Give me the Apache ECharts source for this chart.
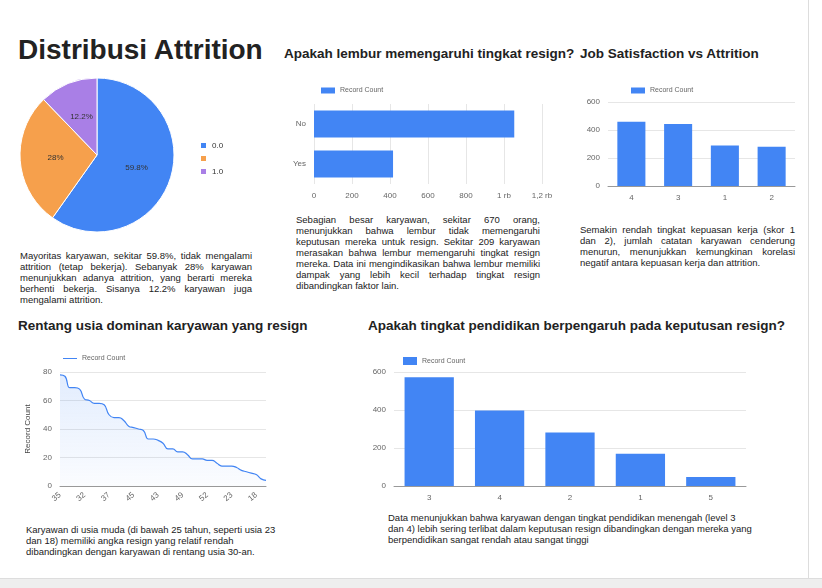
<!DOCTYPE html>
<html>
<head>
<meta charset="utf-8">
<script src="https://cdn.jsdelivr.net/npm/echarts@6/dist/echarts.min.js"></script>
<style>
body{margin:0;width:822px;height:588px;background:#fff;font-family:"Liberation Sans",Arial,sans-serif;position:relative;overflow:hidden}
.t{position:absolute;color:#222;font-weight:bold;white-space:nowrap}
.p{position:absolute;font-size:9.5px;line-height:11px;color:#222;text-align:justify}
.c{position:absolute}
#foot{position:absolute;left:0;top:578px;width:822px;height:10px;background:#eee;border-top:1px solid #ddd}
#edge{position:absolute;left:808px;top:0;width:1px;height:578px;background:#ddd}
</style>
</head>
<body>
<div class="t" style="left:18px;top:34px;font-size:28px">Distribusi Attrition</div>
<div class="t" style="left:284px;top:46px;font-size:13.5px">Apakah lembur memengaruhi tingkat resign?</div>
<div class="t" style="left:580px;top:46px;font-size:13.5px">Job Satisfaction vs Attrition</div>
<div class="t" style="left:18px;top:318px;font-size:13.5px">Rentang usia dominan karyawan yang resign</div>
<div class="t" style="left:368px;top:318px;font-size:13.5px">Apakah tingkat pendidikan berpengaruh pada keputusan resign?</div>

<div class="c" id="pie" style="left:10px;top:78px;width:260px;height:160px"></div>
<div class="c" id="ot" style="left:284px;top:74px;width:280px;height:130px"></div>
<div class="c" id="js" style="left:578px;top:74px;width:225px;height:130px"></div>
<div class="c" id="age" style="left:14px;top:342px;width:270px;height:170px"></div>
<div class="c" id="edu" style="left:364px;top:342px;width:400px;height:166px"></div>

<div class="p" style="left:20px;top:250px;width:232px">Mayoritas karyawan, sekitar 59.8%, tidak mengalami attrition (tetap bekerja). Sebanyak 28% karyawan menunjukkan adanya attrition, yang berarti mereka berhenti bekerja. Sisanya 12.2% karyawan juga mengalami attrition.</div>
<div class="p" style="left:296px;top:214px;width:244px">Sebagian besar karyawan, sekitar 670 orang, menunjukkan bahwa lembur tidak memengaruhi keputusan mereka untuk resign. Sekitar 209 karyawan merasakan bahwa lembur memengaruhi tingkat resign mereka. Data ini mengindikasikan bahwa lembur memiliki dampak yang lebih kecil terhadap tingkat resign dibandingkan faktor lain.</div>
<div class="p" style="left:580px;top:224px;width:215px">Semakin rendah tingkat kepuasan kerja (skor 1 dan 2), jumlah catatan karyawan cenderung menurun, menunjukkan kemungkinan korelasi negatif antara kepuasan kerja dan attrition.</div>
<div class="p" style="left:26px;top:524px;width:250px;text-align:left">Karyawan di usia muda (di bawah 25 tahun, seperti usia 23 dan 18) memiliki angka resign yang relatif rendah dibandingkan dengan karyawan di rentang usia 30-an.</div>
<div class="p" style="left:388px;top:512px;width:365px;text-align:left">Data menunjukkan bahwa karyawan dengan tingkat pendidikan menengah (level 3 dan 4) lebih sering terlibat dalam keputusan resign dibandingkan dengan mereka yang berpendidikan sangat rendah atau sangat tinggi</div>
<div id="edge"></div>
<div id="foot"></div>

<script>
const pieNames = ['0.0', ' ', '1.0'];
const pieValues = [59.8, 28, 12.2];
const pieColors = ['#4285f4', '#f6a04c', '#a97fe6'];

const otCats = ['No', 'Yes'];
const otValues = [1054, 416];

const jsCats = ['4', '3', '1', '2'];
const jsValues = [459, 442, 289, 280];

const ageCats = ['35','34','36','31','29','32','30','33','38','40','37','27','28','42','39','45','41','26','44','46','43','50','25','24','47','49','55','51','53','48','52','54','22','56','58','23','21','20','59','19','18','60','57'];
const ageValues = [78,77,69,69,68,61,60,58,58,57,50,48,48,46,42,41,40,39,33,33,32,30,26,26,24,24,22,19,19,19,18,18,16,14,14,14,13,11,10,9,8,5,4];

const eduCats = ['3', '4', '2', '1', '5'];
const eduValues = [572, 398, 282, 170, 48];

const blue = '#4285f4';
const lbl = {color: '#666', fontSize: 8};
const grid = {lineStyle: {color: '#e6e6e6'}};
const legend = (shape) => ({top: 0, left: 20, itemWidth: 14, itemHeight: 6, icon: shape, textStyle: {color: '#666', fontSize: 7}});

echarts.init(document.getElementById('pie')).setOption({
  legend: {orient: 'vertical', left: 184, top: 58, itemWidth: 7, itemHeight: 7, icon: 'rect', itemGap: 4, textStyle: {fontSize: 8, color: '#333'}},
  series: [{
    type: 'pie', center: [87, 77], radius: 77, startAngle: 90, clockwise: true,
    label: {position: 'inside', fontSize: 8, color: '#333', formatter: p => p.value + '%'},
    itemStyle: {borderColor: '#fff', borderWidth: 1},
    data: pieNames.map((n, i) => ({name: n, value: pieValues[i], itemStyle: {color: pieColors[i]}}))
  }]
});

echarts.init(document.getElementById('ot')).setOption({
  legend: Object.assign(legend('rect'), {top: 8, left: 32}),
  grid: {left: 30, right: 22, top: 30, bottom: 20},
  xAxis: {type: 'value', min: 0, max: 1200, interval: 200, axisLabel: Object.assign({}, lbl, {formatter: v => v >= 1000 ? (v / 1000).toString().replace('.', ',') + ' rb' : v}), splitLine: grid},
  yAxis: {type: 'category', inverse: true, data: otCats, axisLine: {show: false}, axisTick: {show: false}, axisLabel: lbl},
  series: [{name: 'Record Count', type: 'bar', data: otValues, barWidth: '68%', itemStyle: {color: blue}}]
});

echarts.init(document.getElementById('js')).setOption({
  legend: Object.assign(legend('rect'), {left: 48, top: 8}),
  grid: {left: 30, right: 8, top: 28, bottom: 18},
  xAxis: {type: 'category', data: jsCats, axisTick: {show: false}, axisLine: {lineStyle: {color: '#999'}}, axisLabel: lbl},
  yAxis: {type: 'value', min: 0, max: 600, interval: 200, axisLabel: lbl, splitLine: grid},
  series: [{name: 'Record Count', type: 'bar', data: jsValues, barWidth: '60%', itemStyle: {color: blue}}]
});

echarts.init(document.getElementById('age')).setOption({
  legend: Object.assign(legend('rect'), {left: 44, top: 8, itemHeight: 1}),
  grid: {left: 46, right: 18, top: 30, bottom: 26},
  xAxis: {type: 'category', boundaryGap: false, data: ageCats, axisTick: {show: false}, axisLine: {lineStyle: {color: '#999'}},
    axisLabel: Object.assign({}, lbl, {interval: 4, rotate: 40})},
  yAxis: {type: 'value', min: 0, max: 80, interval: 20, name: 'Record Count', nameLocation: 'middle', nameGap: 24, nameTextStyle: {fontSize: 8, color: '#444'}, axisLabel: lbl, splitLine: grid},
  series: [{name: 'Record Count', type: 'line', data: ageValues, smooth: true, symbol: 'none', lineStyle: {width: 1.2, color: blue}, itemStyle: {color: blue},
    areaStyle: {color: new echarts.graphic.LinearGradient(0, 0, 0, 1, [{offset: 0, color: 'rgba(66,133,244,0.22)'}, {offset: 1, color: 'rgba(66,133,244,0.03)'}])}}]
});

echarts.init(document.getElementById('edu')).setOption({
  legend: Object.assign(legend('rect'), {left: 34, top: 10, itemHeight: 8}),
  grid: {left: 30, right: 18, top: 30, bottom: 22},
  xAxis: {type: 'category', data: eduCats, axisTick: {show: false}, axisLine: {lineStyle: {color: '#999'}}, axisLabel: lbl},
  yAxis: {type: 'value', min: 0, max: 600, interval: 200, axisLabel: lbl, splitLine: grid},
  series: [{name: 'Record Count', type: 'bar', data: eduValues, barWidth: '70%', itemStyle: {color: blue}}]
});
</script>
</body>
</html>
